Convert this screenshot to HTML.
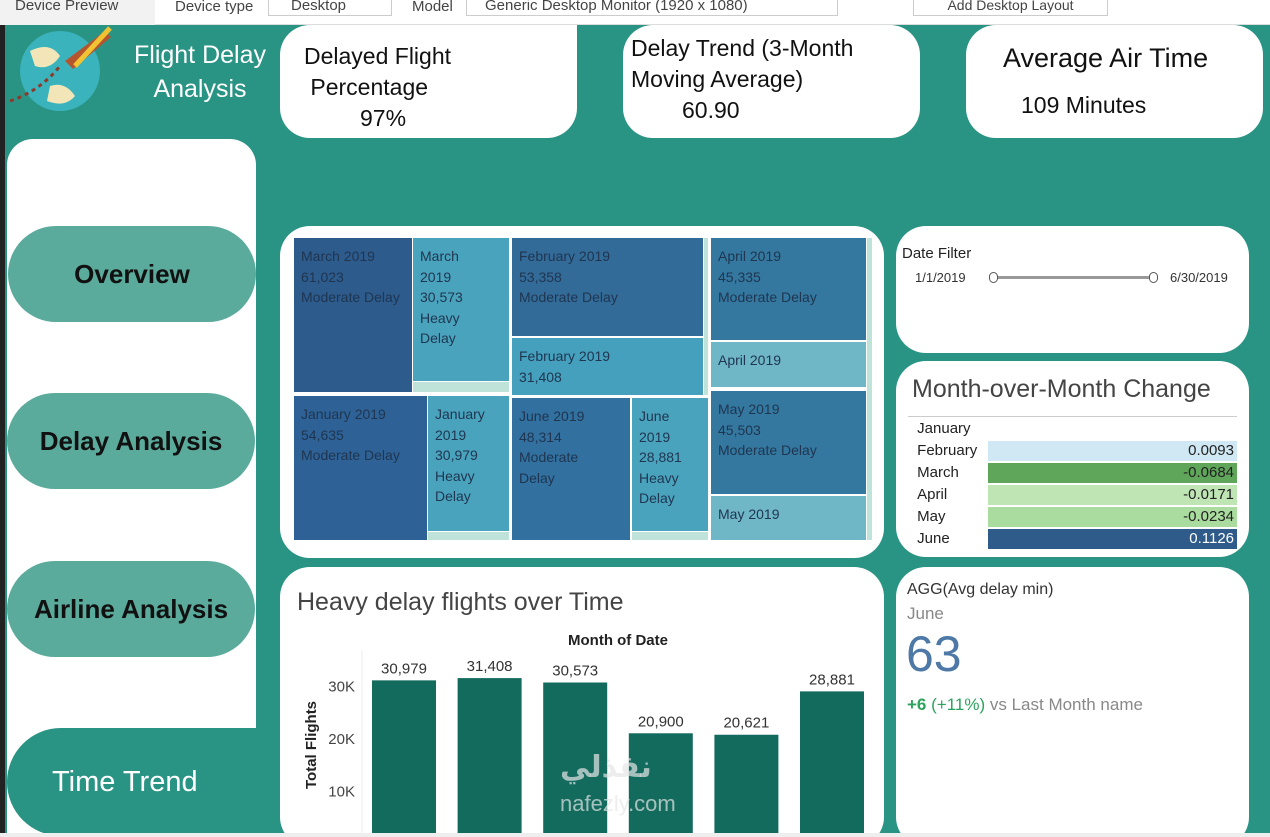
<!DOCTYPE html>
<html><head><meta charset="utf-8"><style>
*{box-sizing:border-box;margin:0;padding:0}
html,body{width:1270px;height:837px;overflow:hidden}
body{background:#2a9484;font-family:"Liberation Sans","DejaVu Sans",sans-serif;position:relative}
.abs{position:absolute}
.card{position:absolute;background:#fff;border-radius:30px}
.nav{position:absolute;background:#5aab9c;border-radius:48px;display:flex;align-items:center;justify-content:center;font-weight:bold;color:#111;font-size:26px}
.tm{position:absolute;color:#1f3550;font-size:14px;line-height:20.6px;padding:8px 7px;overflow:hidden;white-space:nowrap}
.row{position:absolute;left:912px;width:324px;height:22px;font-size:15px;color:#222;line-height:22px}
.row span.b{position:absolute;left:75px;right:0;top:1px;bottom:1px;text-align:right;padding-right:3px;font-size:15px;line-height:20px}
</style></head><body>
<div class="abs" style="left:0;top:0;width:1270px;height:25px;background:#fff;border-bottom:1px solid #ddd;font-size:15px;color:#444">
 <span class="abs" style="left:0;top:0;width:155px;height:25px;background:#f2f2f2;padding-left:15px;line-height:12px">Device Preview</span>
 <span class="abs" style="left:175px;top:-2px">Device type</span>
 <span class="abs" style="left:268px;top:-4px;width:124px;height:20px;border:1px solid #ccc;padding-left:22px">Desktop</span>
 <span class="abs" style="left:412px;top:-2px">Model</span>
 <span class="abs" style="left:466px;top:-4px;width:372px;height:20px;border:1px solid #ccc;padding-left:18px">Generic Desktop Monitor (1920 x 1080)</span>
 <span class="abs" style="left:913px;top:-4px;width:195px;height:20px;border:1px solid #ccc;text-align:center;font-size:14px">Add Desktop Layout</span>
</div>
<div class="abs" style="left:0;top:25px;width:5px;height:812px;background:#222"></div>
<svg class="abs" style="left:5px;top:26px" width="115" height="85"><circle cx="55" cy="45" r="40" fill="#3ab3bd"/><path d="M25 25 q20 -10 30 5 q-10 15 -25 10z M45 60 q15 -5 25 10 q-10 12 -28 5z" fill="#f2e6b8"/><path d="M5 75 q30 -10 50 -35" stroke="#8a3b2b" stroke-width="3" stroke-dasharray="4 4" fill="none"/><path d="M60 35 l40 -30 l6 6 l-38 32z" fill="#b5552f"/><path d="M70 40 l35 -38" stroke="#f1c232" stroke-width="5"/></svg>
<div class="abs" style="left:120px;top:38px;width:160px;text-align:center;color:#fff;font-size:25px;line-height:34px">Flight Delay<br>Analysis</div>
<div class="card" style="left:280px;top:25px;width:297px;height:113px;border-radius:0 0 30px 30px;border-top-left-radius:30px;font-size:23px;color:#111"><div class="abs" style="left:24px;top:16px;line-height:31px">Delayed Flight<br>&nbsp;Percentage<br><span style="padding-left:56px">97%</span></div></div>
<div class="card" style="left:623px;top:25px;width:297px;height:113px;font-size:23px;color:#111"><div class="abs" style="left:8px;top:8px;line-height:31px">Delay Trend (3-Month<br>Moving Average)<br><span style="padding-left:51px">60.90</span></div></div>
<div class="card" style="left:966px;top:25px;width:297px;height:113px;font-size:23px;color:#111"><div class="abs" style="left:37px;top:18px;font-size:27px">Average Air Time</div><div class="abs" style="left:55px;top:67px">109 Minutes</div></div>
<div class="abs" style="left:7px;top:139px;width:249px;height:698px;background:#fff;border-radius:26px 26px 0 0"></div>
<div class="nav" style="left:8px;top:226px;width:248px;height:96px">Overview</div>
<div class="nav" style="left:7px;top:393px;width:248px;height:96px">Delay Analysis</div>
<div class="nav" style="left:7px;top:561px;width:248px;height:96px">Airline Analysis</div>
<div class="nav" style="left:7px;top:728px;width:270px;height:108px;background:#2a9484;color:#fff;font-weight:normal;font-size:29px;border-radius:54px 0 0 54px;justify-content:flex-start;padding-left:45px">Time Trend</div>

<div class="card" style="left:280px;top:226px;width:604px;height:332px"></div>
<div class="abs" style="left:0;top:0">
 <div class="tm" style="left:294px;top:238px;width:118px;height:154px;background:#2d5b8c">March 2019<br>61,023<br>Moderate Delay</div>
 <div class="tm" style="left:413px;top:238px;width:96px;height:143px;background:#4aa3bd">March<br>2019<br>30,573<br>Heavy<br>Delay</div>
 <div class="abs" style="left:413px;top:382px;width:96px;height:10px;background:#bfe3d8"></div>
 <div class="tm" style="left:294px;top:396px;width:133px;height:144px;background:#2e6296">January 2019<br>54,635<br>Moderate Delay</div>
 <div class="tm" style="left:428px;top:396px;width:81px;height:135px;background:#4aa3bd">January<br>2019<br>30,979<br>Heavy<br>Delay</div>
 <div class="abs" style="left:428px;top:532px;width:81px;height:8px;background:#bfe3d8"></div>
 <div class="tm" style="left:512px;top:238px;width:191px;height:98px;background:#336b98">February 2019<br>53,358<br>Moderate Delay</div>
 <div class="tm" style="left:512px;top:338px;width:191px;height:57px;background:#44a0bc">February 2019<br>31,408</div>
 <div class="abs" style="left:704px;top:238px;width:4px;height:157px;background:#bfe3d8"></div>
 <div class="tm" style="left:512px;top:398px;width:118px;height:142px;background:#31709f">June 2019<br>48,314<br>Moderate<br>Delay</div>
 <div class="tm" style="left:632px;top:398px;width:76px;height:133px;background:#4aa3bd">June<br>2019<br>28,881<br>Heavy<br>Delay</div>
 <div class="abs" style="left:632px;top:532px;width:76px;height:8px;background:#bfe3d8"></div>
 <div class="tm" style="left:711px;top:238px;width:155px;height:102px;background:#34789f">April 2019<br>45,335<br>Moderate Delay</div>
 <div class="tm" style="left:711px;top:342px;width:155px;height:45px;background:#6fb6c6">April 2019</div>
 <div class="tm" style="left:711px;top:391px;width:155px;height:103px;background:#34789f">May 2019<br>45,503<br>Moderate Delay</div>
 <div class="tm" style="left:711px;top:496px;width:155px;height:44px;background:#6fb6c6">May 2019</div>
 <div class="abs" style="left:867px;top:238px;width:5px;height:302px;background:#bfe3d8"></div>
</div>

<div class="card" style="left:896px;top:226px;width:353px;height:127px">
 <div class="abs" style="left:6px;top:19px;font-size:15px;color:#222">Date Filter</div>
 <div class="abs" style="left:19px;top:44px;font-size:13px;color:#333">1/1/2019</div>
 <div class="abs" style="left:274px;top:44px;font-size:13px;color:#333">6/30/2019</div>
 <div class="abs" style="left:97px;top:50px;width:160px;height:3px;background:#999"></div>
 <div class="abs" style="left:93px;top:46px;width:9px;height:11px;border:1px solid #555;border-radius:5px;background:#fff"></div>
 <div class="abs" style="left:253px;top:46px;width:9px;height:11px;border:1px solid #555;border-radius:5px;background:#fff"></div>
</div>

<div class="card" style="left:896px;top:361px;width:353px;height:196px">
 <div class="abs" style="left:16px;top:14px;font-size:25px;color:#444">Month-over-Month Change</div>
 <div class="abs" style="left:12px;top:55px;width:329px;height:1px;background:#ccc"></div>
</div>
<div class="row" style="top:418px;left:913px">&nbsp;January</div>
<div class="row" style="top:440px;left:913px">&nbsp;February<span class="b" style="background:#cfe8f3">0.0093</span></div>
<div class="row" style="top:462px;left:913px">&nbsp;March<span class="b" style="background:#5fa65a">-0.0684</span></div>
<div class="row" style="top:484px;left:913px">&nbsp;April<span class="b" style="background:#bfe5b5">-0.0171</span></div>
<div class="row" style="top:506px;left:913px">&nbsp;May<span class="b" style="background:#a9dc9e">-0.0234</span></div>
<div class="row" style="top:528px;left:913px">&nbsp;June<span class="b" style="background:#2e5b8a;color:#fff">0.1126</span></div>

<div class="card" style="left:896px;top:567px;width:353px;height:280px">
 <div class="abs" style="left:11px;top:14px;font-size:16px;color:#333">AGG(Avg delay min)</div>
 <div class="abs" style="left:11px;top:37px;font-size:17px;color:#888">June</div>
 <div class="abs" style="left:10px;top:58px;font-size:50px;color:#4e79a7">63</div>
 <div class="abs" style="left:11px;top:128px;font-size:17px;color:#888"><b style="color:#2ca25f">+6</b> <span style="color:#2ca25f">(+11%)</span> vs Last Month name</div>
</div>

<div class="card" style="left:280px;top:567px;width:604px;height:280px"></div>
<svg class="abs" id="chart" style="left:0;top:0" width="1270" height="837"></svg>
<div class="abs" style="left:560px;top:750px;font-size:30px;color:rgba(230,230,230,0.7);font-weight:bold">نفذلي<br><span style="font-size:22px;font-weight:normal">nafezly.com</span></div>
<div class="abs" style="left:0;top:833px;width:1270px;height:4px;background:#eee"></div>
<script>
const months=["January","February","March","April","May","June"];
const values=[30979,31408,30573,20900,20621,28881];
const labels=["30,979","31,408","30,573","20,900","20,621","28,881"];
const ticks=[0,10000,20000,30000];
const tickLabels=["0K","10K","20K","30K"];
const svg=document.getElementById('chart');
const NS='http://www.w3.org/2000/svg';
const y=v=>843-v*52.5/10000;
const x=i=>372+i*85.6;
function mk(t,a){const e=document.createElementNS(NS,t);for(const k in a)e.setAttribute(k,a[k]);svg.appendChild(e);return e;}
let t=mk('text',{x:297,y:610,'font-size':25,fill:'#444'});t.textContent='Heavy delay flights over Time';


t=mk('text',{x:618,y:645,'font-size':15,fill:'#222','text-anchor':'middle','font-weight':'bold'});t.textContent='Month of Date';


t=mk('text',{x:0,y:0,'font-size':15,fill:'#222','text-anchor':'middle','font-weight':'bold',transform:'translate(316,745) rotate(-90)'});t.textContent='Total Flights';


mk('line',{x1:362,x2:362,y1:650,y2:837,stroke:'#eee'});
ticks.forEach((v,i)=>{const e=mk('text',{x:355,y:y(v)+6,'font-size':15,fill:'#444','text-anchor':'end'});e.textContent=tickLabels[i];

});
values.forEach((v,i)=>{const r=mk('rect',{x:x(i),y:y(v),width:64,height:843-y(v),fill:'#136b5e'});


const l=mk('text',{x:x(i)+32,y:y(v)-7,'font-size':15,fill:'#333','text-anchor':'middle'});l.textContent=labels[i];

});
</script>
</body></html>
